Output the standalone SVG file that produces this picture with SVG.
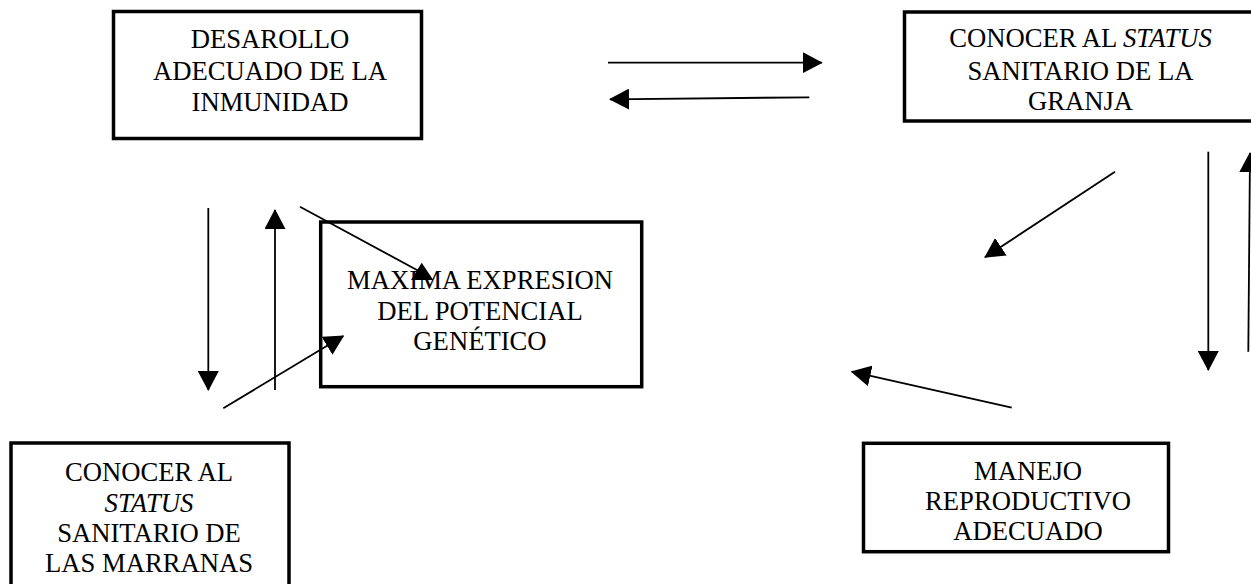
<svg xmlns="http://www.w3.org/2000/svg" width="1251" height="584" viewBox="0 0 1251 584">
  <style>
    .box { fill: #ffffff; stroke: #000000; stroke-width: 3.5; }
    .lbl { font-family: "Liberation Serif", "Times New Roman", serif; font-size: 26.67px; fill: #000000; text-anchor: middle; }
    .it { font-style: italic; }
    .conn { stroke: #000000; stroke-width: 1.8; fill: none; }
    .head { fill: #000000; }
  </style>
  <defs>
    <marker id="arrow" markerUnits="userSpaceOnUse" viewBox="0 0 20 21" markerWidth="20" markerHeight="21" refX="19" refY="10.5" orient="auto">
      <path d="M0,0 L20,10.5 L0,21 Z" fill="#000000"/>
    </marker>
  </defs>
  <rect width="1251" height="584" fill="#ffffff"/>

  <g id="node-desarollo">
    <rect class="box" x="113.5" y="11.5" width="308" height="127"/>
    <text class="lbl" x="270" y="48.3">DESAROLLO</text>
    <text class="lbl" x="270" y="80">ADECUADO DE LA</text>
    <text class="lbl" x="270" y="110.7">INMUNIDAD</text>
  </g>

  <g id="node-status-granja">
    <rect class="box" x="904.5" y="12" width="360" height="109"/>
    <text class="lbl" x="1080.5" y="46.7">CONOCER AL <tspan class="it">STATUS</tspan></text>
    <text class="lbl" x="1080.5" y="80">SANITARIO DE LA</text>
    <text class="lbl" x="1080.5" y="110">GRANJA</text>
  </g>

  <g id="node-maxima">
    <rect class="box" x="320.7" y="222" width="321" height="164.7"/>
    <text class="lbl" x="480" y="289">MAXIMA EXPRESION</text>
    <text class="lbl" x="480" y="320">DEL POTENCIAL</text>
    <text class="lbl" x="480" y="350">GENÉTICO</text>
  </g>

  <g id="node-status-marranas">
    <rect class="box" x="11" y="443" width="278" height="160"/>
    <text class="lbl" x="149" y="480.5">CONOCER AL</text>
    <text class="lbl it" x="149" y="511.5">STATUS</text>
    <text class="lbl" x="149" y="541.5">SANITARIO DE</text>
    <text class="lbl" x="149" y="572">LAS MARRANAS</text>
  </g>

  <g id="node-manejo">
    <rect class="box" x="863.5" y="443.3" width="305" height="108.4"/>
    <text class="lbl" x="1028" y="480">MANEJO</text>
    <text class="lbl" x="1028" y="510">REPRODUCTIVO</text>
    <text class="lbl" x="1028" y="540">ADECUADO</text>
  </g>

  <g id="connectors">
    <line class="conn" x1="608" y1="62.7" x2="821.7" y2="62.7" marker-end="url(#arrow)"/>
    <line class="conn" x1="809.3" y1="97.3" x2="610" y2="99.3" marker-end="url(#arrow)"/>
    <line class="conn" x1="208.3" y1="208" x2="208.3" y2="390" marker-end="url(#arrow)"/>
    <line class="conn" x1="275" y1="390" x2="275" y2="210" marker-end="url(#arrow)"/>
    <line class="conn" x1="300" y1="206.7" x2="428" y2="276"/>
    <polygon class="head" points="421.7,262.7 433.3,280 411,280"/>
    <line class="conn" x1="223.3" y1="408.3" x2="343.3" y2="336" marker-end="url(#arrow)"/>
    <line class="conn" x1="1115" y1="171.7" x2="985" y2="257.3" marker-end="url(#arrow)"/>
    <line class="conn" x1="1208.3" y1="151.7" x2="1208.3" y2="370" marker-end="url(#arrow)"/>
    <line class="conn" x1="1248.3" y1="351.7" x2="1250" y2="153" marker-end="url(#arrow)"/>
    <line class="conn" x1="1011.7" y1="407.7" x2="851.7" y2="371.7" marker-end="url(#arrow)"/>
  </g>
</svg>
